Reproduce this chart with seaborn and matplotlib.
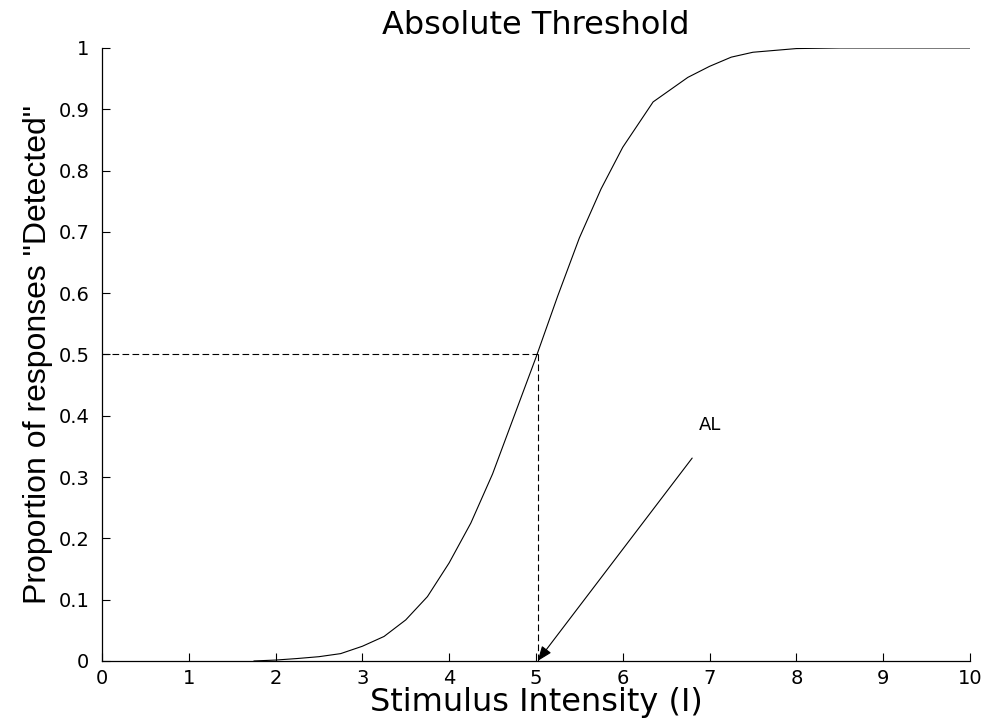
import numpy as np
import pandas as pd
import matplotlib
matplotlib.use("Agg")
import matplotlib.pyplot as plt
import seaborn as sns

# curve values
intensity = [1.75, 2.0, 2.25, 2.5, 2.75, 3.0, 3.25, 3.5, 3.75, 4.0, 4.25, 4.5,
             4.75, 5.0, 5.25, 5.5, 5.75, 6.0, 6.35, 6.75, 7.0, 7.25, 7.5,
             8.0, 8.5, 9.0, 10.0]
proportion = [0.0, 0.0015, 0.004, 0.007, 0.012, 0.024, 0.04, 0.067, 0.105,
              0.16, 0.225, 0.305, 0.40, 0.495, 0.595, 0.69, 0.77, 0.838,
              0.912, 0.952, 0.97, 0.985, 0.993, 0.999, 1.0, 1.0, 1.0]

threshold_x = 5.02
threshold_y = 0.5
arrow_tail = (6.8, 0.331)
label_pos = (6.88, 0.37)

x_ticks = list(range(0, 11))
y_ticks = [0, 0.1, 0.2, 0.3, 0.4, 0.5, 0.6, 0.7, 0.8, 0.9, 1]
y_tick_labels = ["0", "0.1", "0.2", "0.3", "0.4", "0.5", "0.6", "0.7", "0.8", "0.9", "1"]

df = pd.DataFrame({"I": intensity, "P": proportion})

sns.set_style("ticks")
plt.rcParams["font.family"] = ["DejaVu Sans"]
plt.rcParams["xtick.direction"] = "in"
plt.rcParams["ytick.direction"] = "in"
plt.rcParams["text.color"] = "black"
plt.rcParams["axes.labelcolor"] = "black"
plt.rcParams["xtick.color"] = "black"
plt.rcParams["ytick.color"] = "black"

fig = plt.figure(figsize=(9.86, 7.19), dpi=100)
ax = fig.add_axes([0.1034, 0.0807, 0.8803, 0.8526])

sns.lineplot(data=df, x="I", y="P", ax=ax, color="black", linewidth=0.8)

# dashed guide lines at the 50% point
ax.plot([0, threshold_x], [threshold_y, threshold_y], color="black",
        linestyle=(0, (6, 3)), linewidth=0.8)
ax.plot([threshold_x, threshold_x], [threshold_y, 0], color="black",
        linestyle=(0, (6, 3)), linewidth=0.8)

ax.annotate("", xy=(threshold_x, 0), xytext=arrow_tail,
            arrowprops=dict(arrowstyle="-|>,head_length=0.9,head_width=0.35",
                            color="black", lw=0.8, shrinkA=0, shrinkB=0))
ax.text(label_pos[0], label_pos[1], "AL", fontsize=13, ha="left", va="bottom")

ax.set_xlim(0, 10)
ax.set_ylim(0, 1)
ax.set_xticks(x_ticks)
ax.set_yticks(y_ticks)
ax.set_yticklabels(y_tick_labels)
ax.tick_params(axis="both", labelsize=14, length=6, width=0.8, color="black",
               labelcolor="black")
ax.tick_params(axis="y", pad=9)
ax.tick_params(axis="x", pad=6)
sns.despine(ax=ax)
for s in ["left", "bottom"]:
    ax.spines[s].set_linewidth(0.9)
    ax.spines[s].set_color("black")

ax.set_title("Absolute Threshold", fontsize=23, pad=10, color="black")
ax.set_xlabel("Stimulus Intensity (I)", fontsize=23, labelpad=-1)
ax.set_ylabel('Proportion of responses "Detected"', fontsize=23, labelpad=4,
              family="Liberation Sans")

fig.savefig("out.png", dpi=100)
